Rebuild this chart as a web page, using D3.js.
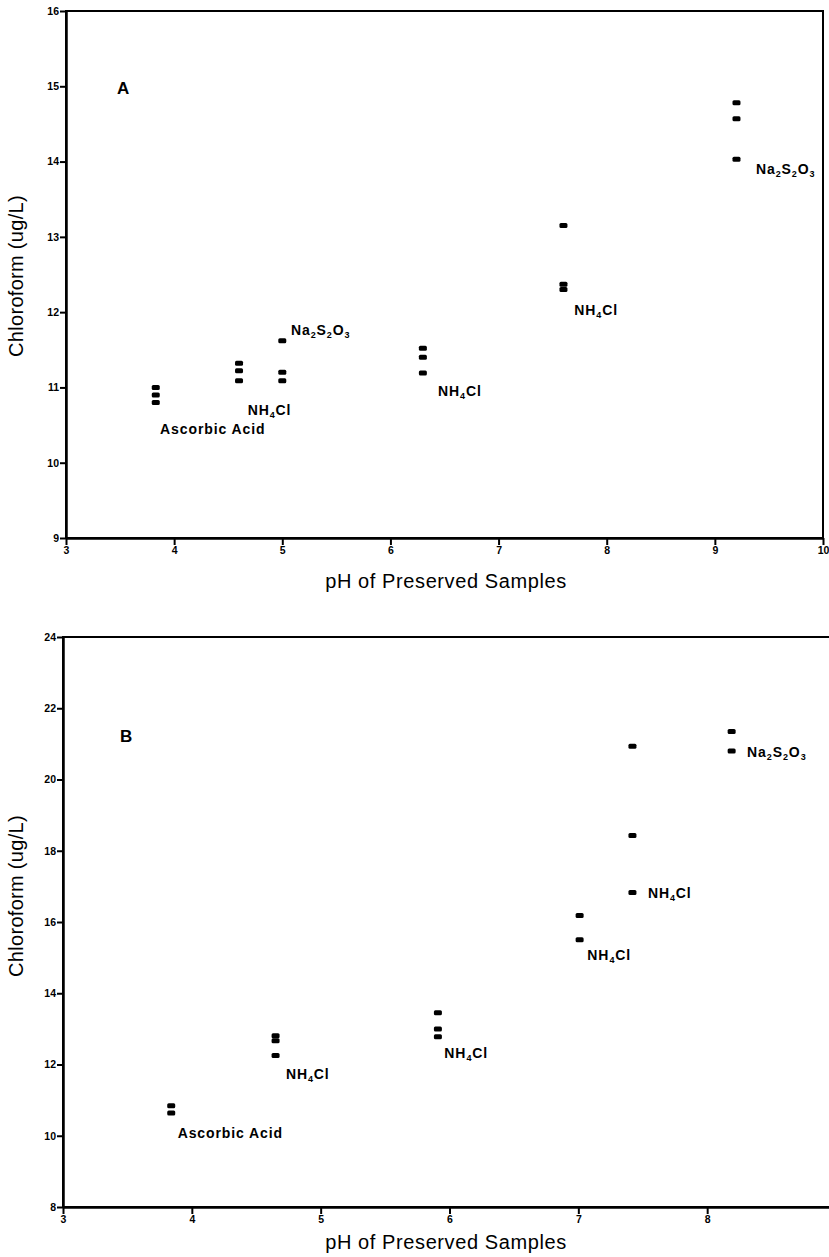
<!DOCTYPE html>
<html>
<head>
<meta charset="utf-8">
<script src="https://cdn.jsdelivr.net/npm/d3@7"></script>
<style>
  html, body { margin: 0; padding: 0; background: #fff; }
  svg { display: block; }
</style>
</head>
<body>
<svg id="chart" width="829" height="1257"></svg>
<script>
// ---------- Panel A data ----------
const phA  = [3.83, 3.83, 3.83, 4.6, 4.6, 4.6, 5.0, 5.0, 5.0, 6.3, 6.3, 6.3, 7.6, 7.6, 7.6, 9.2, 9.2, 9.2];
const chlA = [11.0, 10.9, 10.8, 11.32, 11.22, 11.09, 11.62, 11.2, 11.09, 11.52, 11.4, 11.19, 13.15, 12.37, 12.3, 14.78, 14.57, 14.03];
const xTicksA = [3, 4, 5, 6, 7, 8, 9, 10];
const yTicksA = [9, 10, 11, 12, 13, 14, 15, 16];
const labelTextA = ["Ascorbic Acid", "NH4Cl", "Na2S2O3", "NH4Cl", "NH4Cl", "Na2S2O3"];
const labelPhA   = [3.87, 4.68, 5.08, 6.44, 7.70, 9.38];
const labelChlA  = [10.38, 10.64, 11.70, 10.89, 11.96, 13.83];

// ---------- Panel B data ----------
const phB  = [3.84, 3.84, 4.65, 4.65, 4.65, 5.91, 5.91, 5.91, 7.01, 7.01, 7.42, 7.42, 7.42, 8.19, 8.19];
const chlB = [10.84, 10.64, 12.81, 12.67, 12.25, 13.45, 13.0, 12.78, 16.18, 15.5, 20.93, 18.43, 16.83, 21.35, 20.8];
const xTicksB = [3, 4, 5, 6, 7, 8];
const yTicksB = [8, 10, 12, 14, 16, 18, 20, 22, 24];
const labelTextB = ["Ascorbic Acid", "NH4Cl", "NH4Cl", "NH4Cl", "NH4Cl", "Na2S2O3"];
const labelPhB   = [3.89, 4.73, 5.96, 7.07, 7.54, 8.31];
const labelChlB  = [9.94, 11.6, 12.19, 14.94, 16.66, 20.62];

const panelLetters = ["A", "B"];
const xTitle = "pH of Preserved Samples";
const yTitle = "Chloroform (ug/L)";

const svg = d3.select("#chart");
const FONT = "'Liberation Sans', Arial, Helvetica, sans-serif";

function addLabel(g, text, x, y) {
  const t = g.append("text")
    .attr("x", x).attr("y", y)
    .attr("font-family", FONT)
    .attr("font-weight", "bold")
    .attr("font-size", 14)
    .attr("letter-spacing", 0.9)
    .attr("fill", "#000");
  const parts = text === "Ascorbic Acid" ? [[text, false]] :
    text.match(/[A-Za-z]+|\d+/g).map(s => [s, /^\d+$/.test(s)]);
  parts.forEach(([s, sub], i) => {
    const ts = t.append("tspan").text(s);
    if (sub) {
      ts.attr("font-size", 9).attr("dy", 3);
    } else if (i > 0 && parts[i - 1][1]) {
      ts.attr("dy", -3);
    }
  });
}

function drawPanel(cfg) {
  const g = svg.append("g");
  const x = d3.scaleLinear().domain(cfg.xDomain).range(cfg.xRange);
  const y = d3.scaleLinear().domain(cfg.yDomain).range(cfg.yRange);

  g.append("rect")
    .attr("x", cfg.xRange[0]).attr("y", cfg.yRange[1])
    .attr("width", cfg.xRange[1] - cfg.xRange[0])
    .attr("height", cfg.yRange[0] - cfg.yRange[1])
    .attr("fill", "none").attr("stroke", "#000").attr("stroke-width", 2);

  const xAxis = g.append("g")
    .attr("transform", `translate(0,${cfg.yRange[0]})`)
    .call(d3.axisBottom(x).tickValues(cfg.xTicks).tickFormat(d3.format("d")).tickSize(7).tickSizeOuter(0));
  const yAxis = g.append("g")
    .attr("transform", `translate(${cfg.xRange[0]},0)`)
    .call(d3.axisLeft(y).tickValues(cfg.yTicks).tickFormat(d3.format("d")).tickSize(6).tickSizeOuter(0));

  [xAxis, yAxis].forEach(a => {
    a.select(".domain").attr("stroke", "#000").attr("stroke-width", 2.5);
    a.selectAll(".tick line").attr("stroke", "#000").attr("stroke-width", 2);
    a.selectAll(".tick text")
      .attr("font-family", FONT).attr("font-weight", "bold")
      .attr("font-size", 10.5).attr("fill", "#000");
  });
  xAxis.selectAll(".tick text").attr("y", 9);
  yAxis.selectAll(".tick text").attr("x", -7);

  g.selectAll("rect.pt")
    .data(cfg.ph.map((p, i) => [p, cfg.chl[i]]))
    .join("rect")
    .attr("class", "pt")
    .attr("x", d => x(d[0]) - 4)
    .attr("y", d => y(d[1]) - 2.5)
    .attr("width", 8).attr("height", 5)
    .attr("rx", 1.5)
    .attr("fill", "#000");

  cfg.labelText.forEach((t, i) => addLabel(g, t, x(cfg.labelPh[i]), y(cfg.labelChl[i])));

  g.append("text")
    .attr("x", cfg.letterPos[0]).attr("y", cfg.letterPos[1])
    .attr("font-family", FONT).attr("font-weight", "bold")
    .attr("font-size", 17).attr("fill", "#000")
    .text(cfg.letter);

  g.append("text")
    .attr("x", 446).attr("y", cfg.xTitleY)
    .attr("text-anchor", "middle")
    .attr("font-family", FONT).attr("font-size", 20).attr("letter-spacing", 0.6)
    .attr("fill", "#000")
    .text(xTitle);
  g.append("text")
    .attr("transform", `translate(23,${cfg.yTitleCenter}) rotate(-90)`)
    .attr("text-anchor", "middle")
    .attr("font-family", FONT).attr("font-size", 20).attr("letter-spacing", 0.3)
    .attr("fill", "#000")
    .text(yTitle);
}

drawPanel({
  ph: phA, chl: chlA,
  xDomain: [3, 10], xRange: [66, 823],
  yDomain: [9, 16], yRange: [538, 11],
  xTicks: xTicksA, yTicks: yTicksA,
  labelText: labelTextA, labelPh: labelPhA, labelChl: labelChlA,
  letter: panelLetters[0], letterPos: [117, 94],
  xTitleY: 588, yTitleCenter: 276
});

drawPanel({
  ph: phB, chl: chlB,
  xDomain: [3, 9], xRange: [63, 836],
  yDomain: [8, 24], yRange: [1207, 637],
  xTicks: xTicksB, yTicks: yTicksB,
  labelText: labelTextB, labelPh: labelPhB, labelChl: labelChlB,
  letter: panelLetters[1], letterPos: [120, 742],
  xTitleY: 1249, yTitleCenter: 896
});
</script>
</body>
</html>
